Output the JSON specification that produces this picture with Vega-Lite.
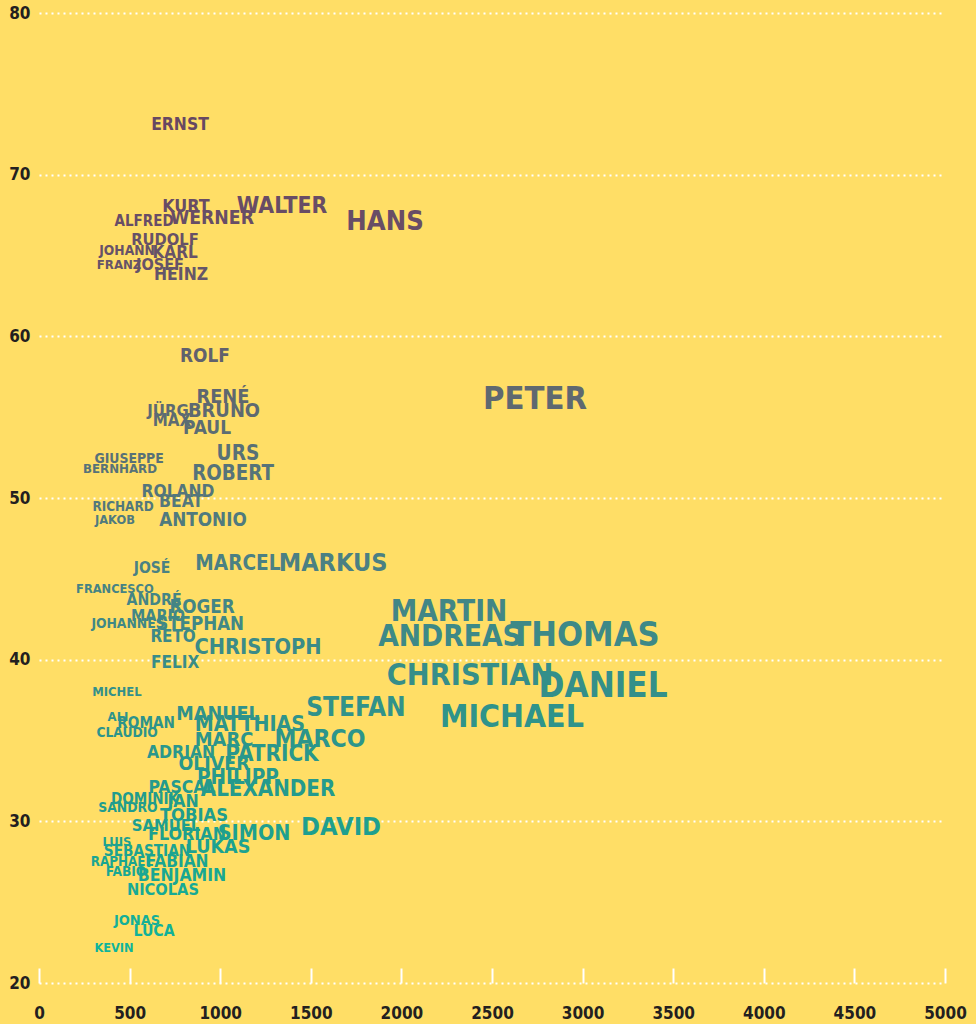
{
  "$schema": "https://vega.github.io/schema/vega-lite/v6.json",
  "width": 906,
  "height": 970,
  "autosize": "none",
  "padding": {"left": 39, "top": 13, "right": 31, "bottom": 41},
  "background": "#FFDE66",
  "config": {
    "view": {"stroke": null},
    "font": "DejaVu Sans Condensed"
  },
  "data": {
    "values": [
      {"name": "ERNST", "count": 778, "age": 73.07},
      {"name": "KURT", "count": 811, "age": 68.0},
      {"name": "WALTER", "count": 1341, "age": 68.06},
      {"name": "HANS", "count": 1910, "age": 67.07},
      {"name": "WERNER", "count": 955, "age": 67.32},
      {"name": "ALFRED", "count": 580, "age": 67.07},
      {"name": "RUDOLF", "count": 695, "age": 65.96},
      {"name": "JOHANN", "count": 486, "age": 65.28},
      {"name": "KARL", "count": 751, "age": 65.16},
      {"name": "FRANZ", "count": 442, "age": 64.42},
      {"name": "JOSEF", "count": 668, "age": 64.42},
      {"name": "HEINZ", "count": 784, "age": 63.8},
      {"name": "ROLF", "count": 916, "age": 58.79},
      {"name": "RENÉ", "count": 1015, "age": 56.25},
      {"name": "JÜRG", "count": 712, "age": 55.39},
      {"name": "BRUNO", "count": 1021, "age": 55.39},
      {"name": "MAX", "count": 734, "age": 54.77},
      {"name": "PAUL", "count": 927, "age": 54.33},
      {"name": "GIUSEPPE", "count": 497, "age": 52.42},
      {"name": "BERNHARD", "count": 447, "age": 51.8},
      {"name": "URS", "count": 1098, "age": 52.73},
      {"name": "ROBERT", "count": 1071, "age": 51.49},
      {"name": "ROLAND", "count": 767, "age": 50.38},
      {"name": "BEAT", "count": 784, "age": 49.76},
      {"name": "RICHARD", "count": 464, "age": 49.45},
      {"name": "JAKOB", "count": 419, "age": 48.65},
      {"name": "ANTONIO", "count": 905, "age": 48.65},
      {"name": "PETER", "count": 2737, "age": 56.13},
      {"name": "JOSÉ", "count": 624, "age": 45.68},
      {"name": "MARCEL", "count": 1098, "age": 45.92},
      {"name": "MARKUS", "count": 1623, "age": 45.99},
      {"name": "FRANCESCO", "count": 419, "age": 44.38},
      {"name": "ANDRÉ", "count": 635, "age": 43.7},
      {"name": "ROGER", "count": 900, "age": 43.27},
      {"name": "MARIO", "count": 657, "age": 42.71},
      {"name": "JOHANNES", "count": 491, "age": 42.21},
      {"name": "STEPHAN", "count": 889, "age": 42.21},
      {"name": "RETO", "count": 740, "age": 41.41},
      {"name": "CHRISTOPH", "count": 1209, "age": 40.73},
      {"name": "FELIX", "count": 751, "age": 39.8},
      {"name": "MARTIN", "count": 2263, "age": 42.96},
      {"name": "ANDREAS", "count": 2268, "age": 41.41},
      {"name": "THOMAS", "count": 3013, "age": 41.47},
      {"name": "CHRISTIAN", "count": 2379, "age": 39.0},
      {"name": "DANIEL", "count": 3113, "age": 38.32},
      {"name": "MICHAEL", "count": 2610, "age": 36.46},
      {"name": "MICHEL", "count": 430, "age": 38.01},
      {"name": "ALI", "count": 436, "age": 36.46},
      {"name": "ROMAN", "count": 591, "age": 36.09},
      {"name": "CLAUDIO", "count": 486, "age": 35.47},
      {"name": "MANUEL", "count": 988, "age": 36.65},
      {"name": "MATTHIAS", "count": 1164, "age": 35.97},
      {"name": "MARC", "count": 1021, "age": 35.04},
      {"name": "MARCO", "count": 1551, "age": 35.04},
      {"name": "STEFAN", "count": 1749, "age": 37.02},
      {"name": "ADRIAN", "count": 784, "age": 34.24},
      {"name": "PATRICK", "count": 1286, "age": 34.18},
      {"name": "OLIVER", "count": 966, "age": 33.56},
      {"name": "PHILIPP", "count": 1098, "age": 32.69},
      {"name": "PASCAL", "count": 789, "age": 32.07},
      {"name": "ALEXANDER", "count": 1264, "age": 32.01},
      {"name": "DOMINIK", "count": 585, "age": 31.39},
      {"name": "JAN", "count": 795, "age": 31.21},
      {"name": "SANDRO", "count": 491, "age": 30.83},
      {"name": "TOBIAS", "count": 855, "age": 30.34},
      {"name": "SAMUEL", "count": 701, "age": 29.72},
      {"name": "FLORIAN", "count": 817, "age": 29.16},
      {"name": "SIMON", "count": 1187, "age": 29.22},
      {"name": "DAVID", "count": 1667, "age": 29.66},
      {"name": "LUIS", "count": 430, "age": 28.73},
      {"name": "SEBASTIAN", "count": 596, "age": 28.18},
      {"name": "LUKAS", "count": 988, "age": 28.42},
      {"name": "RAPHAEL", "count": 458, "age": 27.5},
      {"name": "FABIAN", "count": 762, "age": 27.5},
      {"name": "FABIO", "count": 480, "age": 26.88},
      {"name": "BENJAMIN", "count": 789, "age": 26.63},
      {"name": "NICOLAS", "count": 684, "age": 25.76},
      {"name": "JONAS", "count": 541, "age": 23.85},
      {"name": "LUCA", "count": 635, "age": 23.23},
      {"name": "KEVIN", "count": 414, "age": 22.18}
    ]
  },
  "mark": {"type": "text", "align": "center", "baseline": "middle", "fontWeight": "bold", "font": "DejaVu Sans Condensed"},
  "encoding": {
    "x": {
      "field": "count", "type": "quantitative",
      "scale": {"domain": [0, 5000], "nice": false},
      "axis": {
        "title": null, "values": [0, 500, 1000, 1500, 2000, 2500, 3000, 3500, 4000, 4500, 5000], "format": "d",
        "grid": false, "domain": false, "ticks": true, "tickColor": "#FFFFFF", "tickWidth": 2, "tickSize": -15,
        "labelPadding": 37, "labelFont": "DejaVu Sans Condensed", "labelFontWeight": "bold", "labelFontSize": 17,
        "labelColor": "#231F20", "labelFlush": false, "labelOverlap": false
      }
    },
    "y": {
      "field": "age", "type": "quantitative",
      "scale": {"domain": [20, 80], "nice": false},
      "axis": {
        "title": null, "values": [20, 30, 40, 50, 60, 70, 80],
        "grid": true, "gridColor": "#FFFFFF", "gridWidth": 2, "gridDash": [2, 4], "gridOpacity": 1,
        "domain": false, "ticks": false, "labelPadding": 9,
        "labelFont": "DejaVu Sans Condensed", "labelFontWeight": "bold", "labelFontSize": 17,
        "labelColor": "#231F20", "labelFlush": false, "labelOverlap": false
      }
    },
    "text": {"field": "name", "type": "nominal"},
    "size": {"field": "count", "type": "quantitative", "scale": {"type": "sqrt", "domain": [0, 5000], "range": [0, 44]}, "legend": null},
    "color": {
      "field": "age", "type": "quantitative",
      "scale": {"domain": [22, 30, 38, 46, 56, 67, 73], "range": ["#10B49B", "#1F9E8E", "#33908A", "#4B8083", "#5F6870", "#684D66", "#674862"], "interpolate": "rgb"},
      "legend": null
    }
  }
}
